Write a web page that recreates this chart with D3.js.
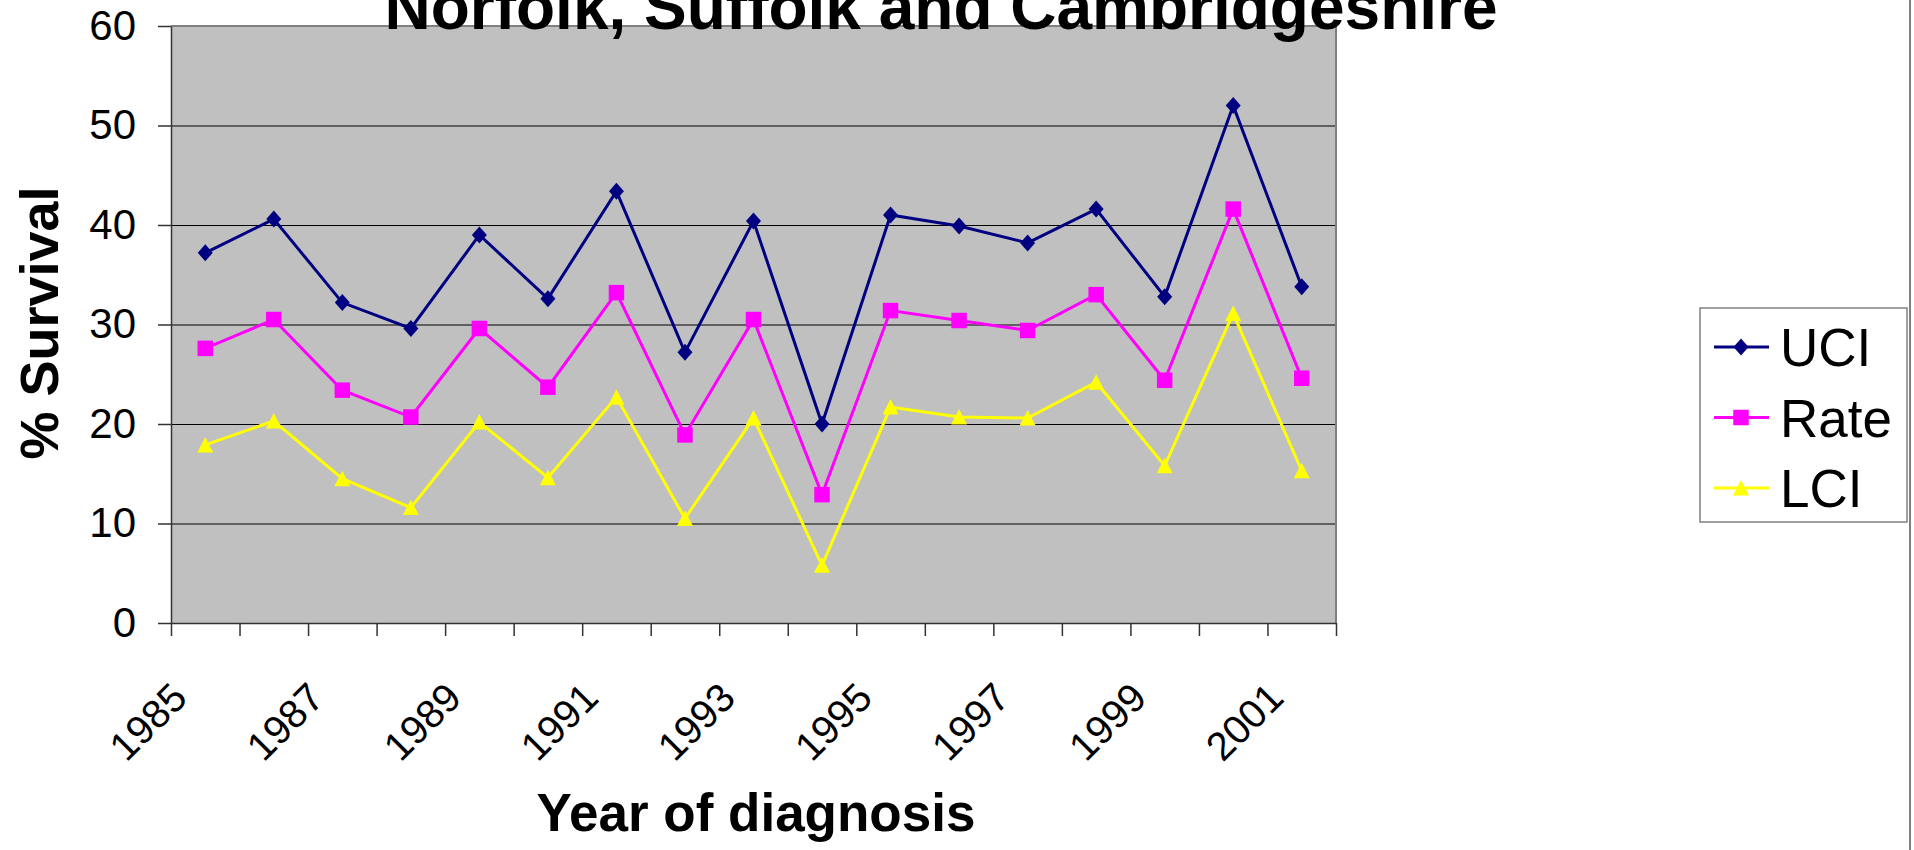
<!DOCTYPE html>
<html>
<head>
<meta charset="utf-8">
<script src="https://cdn.jsdelivr.net/npm/d3@7"></script>
<style>
body { margin:0; background:#fff; }
svg { display:block; font-family:"Liberation Sans", Arial, sans-serif; }
</style>
</head>
<body>
<div id="chart"></div>
<script>
var years = [1985,1986,1987,1988,1989,1990,1991,1992,1993,1994,1995,1996,1997,1998,1999,2000,2001];
var uci  = [37.2,40.6,32.2,29.6,39.0,32.6,43.4,27.2,40.4,20.0,41.0,39.9,38.2,41.6,32.8,52.0,33.8];
var rate = [27.6,30.5,23.4,20.7,29.6,23.7,33.2,18.9,30.5,12.9,31.4,30.4,29.4,33.0,24.4,41.6,24.6];
var lci  = [17.9,20.3,14.5,11.6,20.2,14.6,22.7,10.5,20.6,5.8,21.7,20.7,20.6,24.2,15.8,31.1,15.3];
var yTicks = [0,10,20,30,40,50,60];
var xLabels = [1985,1987,1989,1991,1993,1995,1997,1999,2001];

var series = [
	{name:'UCI', values:uci, color:'#000080', marker:'diamond'},
	{name:'Rate', values:rate, color:'#ff00ff', marker:'square'},
	{name:'LCI', values:lci, color:'#ffff00', marker:'triangle'}
];

var W = 1914, H = 850;
var plot = {l:171, r:1336, t:26, b:623};

var svg = d3.select('#chart').append('svg')
			.attr('width', W)
			.attr('height', H);

var x = d3.scaleBand()
			.domain(years)
			.range([plot.l, plot.r]);
var xEdge = d3.scaleLinear()
			.domain([0, years.length])
			.range([plot.l, plot.r]);
var y = d3.scaleLinear()
			.domain([0,60])
			.range([plot.b, plot.t]);

// plot background
svg.append('rect')
	.attr('x', plot.l).attr('y', plot.t)
	.attr('width', plot.r-plot.l).attr('height', plot.b-plot.t)
	.attr('fill', '#c0c0c0');

// gridlines
svg.append('g')
	.attr('class', 'grid')
	.attr('transform', 'translate('+plot.l+',0)')
	.call(d3.axisLeft(y).tickValues(yTicks.slice(1,-1)).tickSize(-(plot.r-plot.l)).tickFormat(''))
	.call(g => g.select('.domain').remove())
	.call(g => g.selectAll('line').attr('stroke', '#000').attr('stroke-width', 1));

// plot border (top / right)
svg.append('path')
	.attr('d', 'M'+plot.l+','+plot.t+'H'+plot.r+'V'+plot.b)
	.attr('fill', 'none')
	.attr('stroke', '#808080')
	.attr('stroke-width', 2);

// y axis
svg.append('g')
	.attr('class', 'axis y')
	.attr('transform', 'translate('+plot.l+',0)')
	.call(d3.axisLeft(y).tickValues(yTicks).tickSize(13).tickPadding(22).tickSizeOuter(0))
	.call(g => g.selectAll('line, path').attr('stroke', '#333').attr('stroke-width', 1.5))
	.call(g => g.selectAll('text').attr('font-size', 42).attr('fill', '#000'));

// x axis ticks between categories
svg.append('g')
	.attr('class', 'axis x')
	.attr('transform', 'translate(0,'+plot.b+')')
	.call(d3.axisBottom(xEdge).tickValues(d3.range(years.length+1)).tickSize(13).tickSizeOuter(0).tickFormat(''))
	.call(g => g.selectAll('line, path').attr('stroke', '#333').attr('stroke-width', 1.5));

// x labels, rotated
svg.append('g')
	.attr('class', 'axis xlab')
	.attr('transform', 'translate(0,'+plot.b+')')
	.call(d3.axisBottom(x).tickValues(xLabels).tickSize(0).tickSizeOuter(0))
	.call(g => g.select('.domain').remove())
	.call(g => g.selectAll('text')
		.attr('font-size', 40)
		.attr('fill', '#000')
		.attr('text-anchor', 'end')
		.attr('y', 0).attr('dy', 0)
		.attr('transform', 'translate(-16,77) rotate(-45)'));

// lines and markers
var line = d3.line()
			.x((d,i) => x(years[i]) + x.bandwidth()/2)
			.y(d => y(d));

function markerPath(type) {
	if (type == 'diamond') return 'M0,-8.5L7.5,0L0,8.5L-7.5,0Z';
	if (type == 'square') return d3.symbol(d3.symbolSquare, 240)();
	return 'M0,-8L8,7.5L-8,7.5Z';
}

series.forEach(function(s) {
	var g = svg.append('g').attr('class', 'series '+s.name);
	g.append('path')
		.attr('d', line(s.values))
		.attr('fill', 'none')
		.attr('stroke', s.color)
		.attr('stroke-width', 3);
	g.selectAll('path.mk')
		.data(s.values)
		.enter()
		.append('path')
			.attr('class', 'mk')
			.attr('d', markerPath(s.marker))
			.attr('transform', (d,i) => 'translate('+(x(years[i])+x.bandwidth()/2)+','+y(d)+')')
			.attr('fill', s.color);
});

// titles
svg.append('text')
	.attr('x', 941).attr('y', 29)
	.attr('text-anchor', 'middle')
	.attr('font-size', 64)
	.attr('font-weight', 'bold')
	.text('Norfolk, Suffolk and Cambridgeshire');

svg.append('text')
	.attr('transform', 'translate(58,323) rotate(-90)')
	.attr('text-anchor', 'middle')
	.attr('font-size', 54)
	.attr('font-weight', 'bold')
	.text('% Survival');

svg.append('text')
	.attr('x', 756).attr('y', 831)
	.attr('text-anchor', 'middle')
	.attr('font-size', 53)
	.attr('font-weight', 'bold')
	.text('Year of diagnosis');

// legend
var legend = svg.append('g').attr('class', 'legend');
legend.append('rect')
	.attr('x', 1700).attr('y', 308)
	.attr('width', 207).attr('height', 214)
	.attr('fill', '#fff')
	.attr('stroke', '#808080')
	.attr('stroke-width', 1.5);
var ly = d3.scalePoint().domain(series.map(d=>d.name)).range([347, 488]);
series.forEach(function(s) {
	var row = legend.append('g').attr('transform', 'translate(0,'+ly(s.name)+')');
	row.append('line')
		.attr('x1', 1714).attr('x2', 1769)
		.attr('stroke', s.color).attr('stroke-width', 3);
	row.append('path')
		.attr('d', markerPath(s.marker))
		.attr('transform', 'translate(1741,0)')
		.attr('fill', s.color);
	row.append('text')
		.attr('x', 1780).attr('y', 19)
		.attr('font-size', 53)
		.text(s.name);
});

// chart area right border
svg.append('line')
	.attr('x1', 1910).attr('x2', 1910)
	.attr('y1', 0).attr('y2', H)
	.attr('stroke', '#808080')
	.attr('stroke-width', 2);
</script>
</body>
</html>
